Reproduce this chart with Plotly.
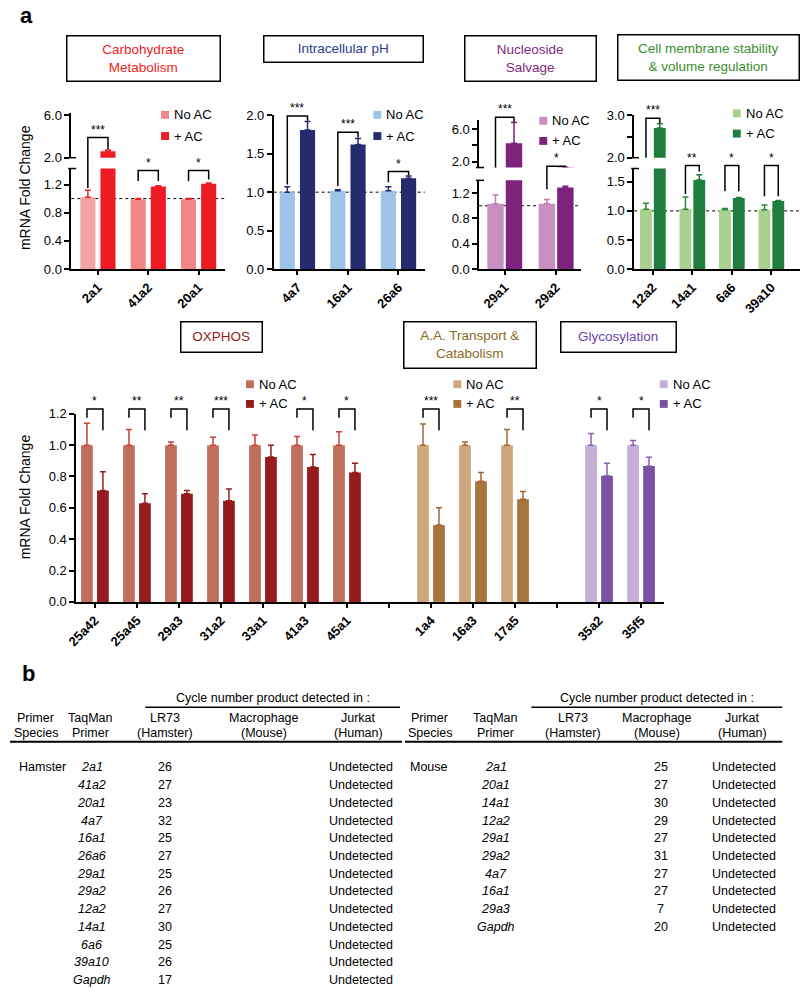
import plotly.graph_objects as go

W, H = 800, 996
FONT = "Liberation Sans, Arial, Helvetica, sans-serif"

# ---------------------------------------------------------------- data
carb_genes = ["2a1", "41a2", "20a1"]
carb_noac = [1.02, 0.99, 0.99]
carb_noac_sem = [0.10, 0.012, 0.012]
carb_ac = [2.60, 1.17, 1.21]
carb_ac_sem = [0.13, 0.012, 0.012]
carb_sig = ["***", "*", "*"]
carb_sig_top = [3.9, 1.40, 1.40]
carb_sig_left = [1.15, 1.25, 1.25]
carb_sig_right = [2.82, 1.25, 1.27]

ph_genes = ["4a7", "16a1", "26a6"]
ph_noac = [1.00, 1.02, 1.02]
ph_noac_sem = [0.07, 0.012, 0.05]
ph_ac = [1.81, 1.62, 1.18]
ph_ac_sem = [0.11, 0.08, 0.03]
ph_sig = ["***", "***", "*"]
ph_sig_top = [1.99, 1.78, 1.27]
ph_sig_left = [1.10, 1.08, 1.13]
ph_sig_right = [1.93, 1.71, 1.22]

nuc_genes = ["29a1", "29a2"]
nuc_noac = [1.03, 1.03]
nuc_noac_sem = [0.14, 0.07]
nuc_ac = [4.27, 1.29]
nuc_ac_sem = [2.55, 0.02]
nuc_sig = ["***", "*"]
nuc_sig_top = [7.45, 1.42]
nuc_sig_left = [1.27, 1.26]
nuc_sig_right = [6.85, 1.33]

mem_genes = ["12a2", "14a1", "6a6", "39a10"]
mem_noac = [1.03, 1.03, 1.02, 1.02]
mem_noac_sem = [0.10, 0.21, 0.02, 0.08]
mem_ac = [2.70, 1.53, 1.22, 1.17]
mem_ac_sem = [0.10, 0.09, 0.01, 0.01]
mem_sig = ["***", "**", "*", "*"]
mem_sig_top = [2.93, 1.78, 1.78, 1.78]
mem_sig_left = [2.0, 1.29, 1.34, 1.25]
mem_sig_right = [2.82, 1.68, 1.34, 1.25]

ox_genes = ["25a42", "25a45", "29a3", "31a2", "33a1", "41a3", "45a1"]
ox_noac = [1.0, 1.0, 1.0, 1.0, 1.0, 1.0, 1.0]
ox_noac_sem = [0.14, 0.10, 0.02, 0.05, 0.065, 0.055, 0.085]
ox_ac = [0.71, 0.63, 0.69, 0.645, 0.925, 0.86, 0.825]
ox_ac_sem = [0.12, 0.06, 0.02, 0.075, 0.075, 0.08, 0.06]
ox_sig = ["*", "**", "**", "***", "", "*", "*"]

aa_genes = ["1a4", "16a3", "17a5"]
aa_noac = [1.0, 1.0, 1.0]
aa_noac_sem = [0.135, 0.02, 0.10]
aa_ac = [0.49, 0.77, 0.655]
aa_ac_sem = [0.11, 0.055, 0.05]
aa_sig = ["***", "", "**"]

gly_genes = ["35a2", "35f5"]
gly_noac = [1.0, 1.0]
gly_noac_sem = [0.075, 0.03]
gly_ac = [0.805, 0.867]
gly_ac_sem = [0.08, 0.055]
gly_sig = ["*", "*"]

bottom_categories = ox_genes + [" "] + aa_genes + ["  "] + gly_genes

ham_primers = ["2a1", "41a2", "20a1", "4a7", "16a1", "26a6", "29a1", "29a2",
               "12a2", "14a1", "6a6", "39a10", "Gapdh"]
ham_lr73 = [26, 27, 23, 32, 25, 27, 25, 26, 27, 30, 25, 26, 17]
mouse_primers = ["2a1", "20a1", "14a1", "12a2", "29a1", "29a2", "4a7", "16a1", "29a3", "Gapdh"]
mouse_macro = [25, 27, 30, 29, 27, 31, 27, 27, 7, 20]
jurkat_result = "Undetected"

# ---------------------------------------------------------------- layout config
panels = [
    dict(xdom=(62, 218), xr=(-0.53, 2.53), bw=0.30, offs=(-0.35, 0.05), dotted=True, cats=carb_genes,
         low=dict(dom=(164, 266), rng=(0, 1.427), tv=[0, 0.4, 0.8, 1.2], tt=["0.0", "0.4", "0.8", "1.2"]),
         up=dict(dom=(107.85, 153), rng=(2.0, 6.2), tv=[2, 6], tt=["2.0", "6.0"]),
         groups=[dict(genes=carb_genes, noac=carb_noac, noac_sem=carb_noac_sem, ac=carb_ac, ac_sem=carb_ac_sem,
                      sig=carb_sig, top=carb_sig_top, left=carb_sig_left, right=carb_sig_right,
                      c_noac=["#F4A3A3", "#F08686", "#F08686"], c_ac="#ED1C24", e_noac="#E3262C", e_ac="#E3262C",
                      leg=(153, 109.5, 131),
                      box=dict(cx=135.5, cy=52.5, w=153, h=45, text="Carbohydrate<br>Metabolism", color="#EE1D23"))]),
    dict(xdom=(267, 420), xr=(-0.47, 2.52), bw=0.30, offs=(-0.35, 0.05), dotted=True, cats=ph_genes,
         low=dict(dom=(110, 266), rng=(0, 2.0), tv=[0, 0.5, 1.0, 1.5, 2.0], tt=["0.0", "0.5", "1.0", "1.5", "2.0"]),
         up=None,
         groups=[dict(genes=ph_genes, noac=ph_noac, noac_sem=ph_noac_sem, ac=ph_ac, ac_sem=ph_ac_sem,
                      sig=ph_sig, top=ph_sig_top, left=ph_sig_left, right=ph_sig_right,
                      c_noac="#9DC3E6", c_ac="#262A6E", e_noac="#262A6E", e_ac="#262A6E",
                      leg=(368, 109.5, 131),
                      box=dict(cx=337.5, cy=43, w=159, h=26, text="Intracellular pH", color="#2E3B8C"))]),
    dict(xdom=(475, 578), xr=(-0.5, 1.48), bw=0.32, offs=(-0.34, 0.02), dotted=True, cats=nuc_genes,
         low=dict(dom=(176, 266), rng=(0, 1.402), tv=[0, 0.4, 0.8, 1.2], tt=["0.0", "0.4", "0.8", "1.2"]),
         up=dict(dom=(115, 163), rng=(1.27, 7.09), tv=[2, 4, 6], tt=["2.0", "", "6.0"]),
         groups=[dict(genes=nuc_genes, noac=nuc_noac, noac_sem=nuc_noac_sem, ac=nuc_ac, ac_sem=nuc_ac_sem,
                      sig=nuc_sig, top=nuc_sig_top, left=nuc_sig_left, right=nuc_sig_right,
                      c_noac="#C98FC2", c_ac="#7D237E", e_noac="#C27BB8", e_ac="#7D237E",
                      leg=(536, 115.5, 136),
                      box=dict(cx=527.5, cy=52.5, w=131, h=45, text="Nucleoside<br>Salvage", color="#7F2A80"))]),
    dict(xdom=(632, 800), xr=(-0.475, 3.725), bw=0.30, offs=(-0.325, 0.025), dotted=True, cats=mem_genes,
         low=dict(dom=(164, 266), rng=(0, 1.729), tv=[0, 0.5, 1.0, 1.5], tt=["0.0", "0.5", "1.0", "1.5"]),
         up=dict(dom=(110, 153), rng=(2.0, 3.0), tv=[2, 2.5, 3], tt=["2.0", "", "3.0"]),
         groups=[dict(genes=mem_genes, noac=mem_noac, noac_sem=mem_noac_sem, ac=mem_ac, ac_sem=mem_ac_sem,
                      sig=mem_sig, top=mem_sig_top, left=mem_sig_left, right=mem_sig_right,
                      c_noac="#A9D18E", c_ac="#1F7D3D", e_noac="#2A8A3A", e_ac="#1F7D3D",
                      leg=(732, 108, 128.5),
                      box=dict(cx=707.5, cy=51.5, w=181, h=45,
                               text="Cell membrane stability<br>& volume regulation", color="#3C8D2F"))]),
    dict(xdom=(67, 662), xr=(-0.447, 13.54), bw=0.28, offs=(-0.33, 0.05), dotted=False, cats=bottom_categories,
         low=dict(dom=(413, 604), rng=(0, 1.2), tv=[0, 0.2, 0.4, 0.6, 0.8, 1.0, 1.2],
                  tt=["0.0", "0.2", "0.4", "0.6", "0.8", "1.0", "1.2"]),
         up=None,
         groups=[dict(genes=ox_genes, noac=ox_noac, noac_sem=ox_noac_sem, ac=ox_ac, ac_sem=ox_ac_sem,
                      sig=ox_sig, top=1.23, left=1.175, right=1.095,
                      c_noac="#BF6F5C", c_ac="#951B1F", e_noac="#C8403A", e_ac="#951B1F",
                      leg=(239, 383, 403),
                      box=dict(cx=214.5, cy=335, w=81, h=30, text="OXPHOS", color="#8E1B1B")),
                 dict(genes=aa_genes, noac=aa_noac, noac_sem=aa_noac_sem, ac=aa_ac, ac_sem=aa_ac_sem,
                      sig=aa_sig, top=1.23, left=1.175, right=1.095,
                      c_noac="#CFA77F", c_ac="#A8733C", e_noac="#A5652F", e_ac="#A5652F",
                      leg=(449, 383, 403),
                      box=dict(cx=466, cy=343, w=132, h=46, text="A.A. Transport &amp;<br>Catabolism",
                               color="#8A6A1E")),
                 dict(genes=gly_genes, noac=gly_noac, noac_sem=gly_noac_sem, ac=gly_ac, ac_sem=gly_ac_sem,
                      sig=gly_sig, top=1.23, left=1.175, right=1.095,
                      c_noac="#C5AFD7", c_ac="#7A52A3", e_noac="#8B62B5", e_ac="#8B62B5",
                      leg=(658, 383, 403),
                      box=dict(cx=616.5, cy=335, w=115, h=30, text="Glycosylation", color="#6B45A8"))]),
]


def P(x):
    return x / W


def Q(y):
    return 1 - y / H


def xn(n):
    return "x" if n == 1 else f"x{n}"


def yn(n):
    return "y" if n == 1 else f"y{n}"


def xk(n):
    return "xaxis" if n == 1 else f"xaxis{n}"


def yk(n):
    return "yaxis" if n == 1 else f"yaxis{n}"


def vpix(seg, v):
    (t, b), (r0, r1) = seg["dom"], seg["rng"]
    return b - (v - r0) / (r1 - r0) * (b - t)


def ypix(p, v):
    up = p.get("up")
    if up and v >= up["rng"][0]:
        return vpix(up, v)
    return vpix(p["low"], v)


def xpix(p, xv):
    (l, r), (r0, r1) = p["xdom"], p["xr"]
    return l + (xv - r0) / (r1 - r0) * (r - l)


def pick(v, i):
    return v[i] if isinstance(v, (list, tuple)) else v


fig = go.Figure()
layout = dict(width=W, height=H, margin=dict(l=0, r=0, t=0, b=0), paper_bgcolor="white",
              plot_bgcolor="white", showlegend=False, font=dict(family=FONT, color="black"))
shapes, annos = [], []
count = [0]

for p in panels:
    segs = [("low", p["low"])] + ([("up", p["up"])] if p.get("up") else [])
    for kind, seg in segs:
        count[0] += 1
        n = count[0]
        seg["n"] = n
        xa = dict(domain=[P(p["xdom"][0]), P(p["xdom"][1])], range=list(p["xr"]), type="category",
                  categoryorder="array", categoryarray=p["cats"], anchor=yn(n), fixedrange=True,
                  showgrid=False, zeroline=False)
        if kind == "low":
            xa.update(showline=True, linecolor="black", linewidth=1.5, ticks="outside", ticklen=4,
                      tickwidth=1.5, tickcolor="black", tickangle=-45,
                      tickfont=dict(size=13, weight="bold", color="black", family=FONT))
        else:
            xa.update(visible=False)
        ya = dict(domain=[Q(seg["dom"][1]), Q(seg["dom"][0])], range=list(seg["rng"]), anchor=xn(n),
                  showline=True, linecolor="black", linewidth=1.5, ticks="outside", ticklen=5,
                  tickwidth=1.5, tickcolor="black", tickmode="array", tickvals=seg["tv"], ticktext=seg["tt"],
                  tickfont=dict(size=13, color="black", family=FONT), showgrid=False, zeroline=False,
                  fixedrange=True)
        layout[xk(n)] = xa
        layout[yk(n)] = ya
        for g in p["groups"]:
            for vals, sems, col, ecol, off in ((g["noac"], g["noac_sem"], g["c_noac"], g["e_noac"], p["offs"][0]),
                                               (g["ac"], g["ac_sem"], g["c_ac"], g["e_ac"], p["offs"][1])):
                fig.add_trace(go.Bar(
                    x=g["genes"], y=vals, width=p["bw"], offset=off,
                    marker=dict(color=col, line=dict(width=0)),
                    error_y=dict(type="data", symmetric=False, array=sems, arrayminus=[0] * len(vals),
                                 color=ecol, thickness=1.5, width=3),
                    xaxis=xn(n), yaxis=yn(n), showlegend=False, hoverinfo="skip"))

    nl = p["low"]["n"]
    if p["dotted"]:
        shapes.append(dict(type="line", xref=f"{xn(nl)} domain", yref=yn(nl), x0=0, x1=1, y0=1.0, y1=1.0,
                           line=dict(color="black", width=1, dash="dot"), layer="below"))
    if p.get("up"):
        ax = p["xdom"][0]
        for yy in (p["low"]["dom"][0], p["up"]["dom"][1]):
            shapes.append(dict(type="line", xref="paper", yref="paper", x0=P(ax - 3), x1=P(ax + 5),
                               y0=Q(yy), y1=Q(yy), line=dict(color="black", width=1.5)))

    for g in p["groups"]:
        # significance brackets
        for i, gene in enumerate(g["genes"]):
            s = g["sig"][i]
            if not s:
                continue
            idx = p["cats"].index(gene)
            xl = xpix(p, idx + p["offs"][0] + p["bw"] / 2)
            xr = xpix(p, idx + p["offs"][1] + p["bw"] / 2)
            yt = ypix(p, pick(g["top"], i))
            yl = ypix(p, pick(g["left"], i))
            yr = ypix(p, pick(g["right"], i))
            path = (f"M {P(xl)},{Q(yl)} L {P(xl)},{Q(yt)} L {P(xr)},{Q(yt)} L {P(xr)},{Q(yr)}")
            shapes.append(dict(type="path", xref="paper", yref="paper", path=path,
                               line=dict(color="black", width=1.5)))
            annos.append(dict(x=P((xl + xr) / 2), y=Q(yt - 8), xref="paper", yref="paper", text=s,
                              showarrow=False, font=dict(size=12, color="black"),
                              xanchor="center", yanchor="middle"))
        # legend
        sx, cy1, cy2 = g["leg"]
        cn = g["c_noac"][-1] if isinstance(g["c_noac"], list) else g["c_noac"]
        for cy, col, lab in ((cy1, cn, "No AC"), (cy2, g["c_ac"], "+ AC")):
            shapes.append(dict(type="rect", xref="paper", yref="paper", x0=P(sx), x1=P(sx + 8),
                               y0=Q(cy + 4), y1=Q(cy - 4), fillcolor=col, line=dict(width=0)))
            annos.append(dict(x=P(sx + 11), y=Q(cy), xref="paper", yref="paper", text=lab, showarrow=False,
                              xanchor="left", yanchor="middle", font=dict(size=13, color="black")))
        # title box
        b = g["box"]
        annos.append(dict(x=P(b["cx"]), y=Q(b["cy"]), xref="paper", yref="paper", text=b["text"],
                          showarrow=False, font=dict(size=13.5, color=b["color"]), bordercolor="black",
                          borderwidth=1.5, borderpad=0, width=b["w"] - 1.5, height=b["h"] - 1.5,
                          bgcolor="white", xanchor="center", yanchor="middle", align="center",
                          valign="middle"))

# y-axis titles
for yc in (183, 497):
    annos.append(dict(x=P(15), y=Q(yc), xref="paper", yref="paper", text="mRNA Fold Change",
                      textangle=-90, showarrow=False, font=dict(size=14, color="black"),
                      xanchor="center", yanchor="middle"))

# panel labels
annos.append(dict(x=P(17), y=Q(9), xref="paper", yref="paper", text="<b>a</b>", showarrow=False,
                  font=dict(size=22, color="black"), xanchor="center", yanchor="middle"))
annos.append(dict(x=P(19), y=Q(677), xref="paper", yref="paper", text="<b>b</b>", showarrow=False,
                  font=dict(size=22, color="black"), xanchor="center", yanchor="middle"))


# ---------------------------------------------------------------- table
def txt(x, y, s, anchor="center", italic=False):
    annos.append(dict(x=P(x), y=Q(y), xref="paper", yref="paper", text=f"<i>{s}</i>" if italic else s,
                      showarrow=False, font=dict(size=12.5, color="black"), xanchor=anchor,
                      yanchor="middle"))


def hline(x0, x1, y, w):
    shapes.append(dict(type="line", xref="paper", yref="paper", x0=P(x0), x1=P(x1), y0=Q(y), y1=Q(y),
                       line=dict(color="black", width=w)))


tables = [
    dict(cols=(26, 82, 157, 257, 353), cyc=(266, 137, 395), thick=(0, 397), sp=("Hamster", 7),
         primers=ham_primers, nums=ham_lr73, numx=157, pcol=83, ux=355),
    dict(cols=(425, 492, 570, 655, 742), cyc=(655, 528, 782), thick=(400, 782), sp=("Mouse", 403),
         primers=mouse_primers, nums=mouse_macro, numx=659, pcol=492, ux=743),
]
row0, drow = 772, 18
for t in tables:
    c = t["cols"]
    txt(t["cyc"][0], 702, "Cycle number product detected in :")
    hline(t["cyc"][1], t["cyc"][2], 711, 1.5)
    for x, a, b2 in zip(c, ("Primer", "TaqMan", "LR73", "Macrophage", "Jurkat"),
                        ("Species", "Primer", "(Hamster)", "(Mouse)", "(Human)")):
        txt(x, 722, a)
        txt(x, 737, b2)
    hline(t["thick"][0], t["thick"][1], 746, 2)
    txt(t["sp"][1], row0, t["sp"][0], anchor="left")
    for i, (pr, nv) in enumerate(zip(t["primers"], t["nums"])):
        y = row0 + drow * i
        txt(t["pcol"], y, pr, italic=True)
        txt(t["numx"], y, str(nv))
        txt(t["ux"], y, jurkat_result)

layout["shapes"] = shapes
layout["annotations"] = annos
fig.update_layout(**layout)
fig.write_html("out.html", config={"displayModeBar": False},
               post_script="document.body.style.margin='0';document.body.style.overflow='hidden';")
